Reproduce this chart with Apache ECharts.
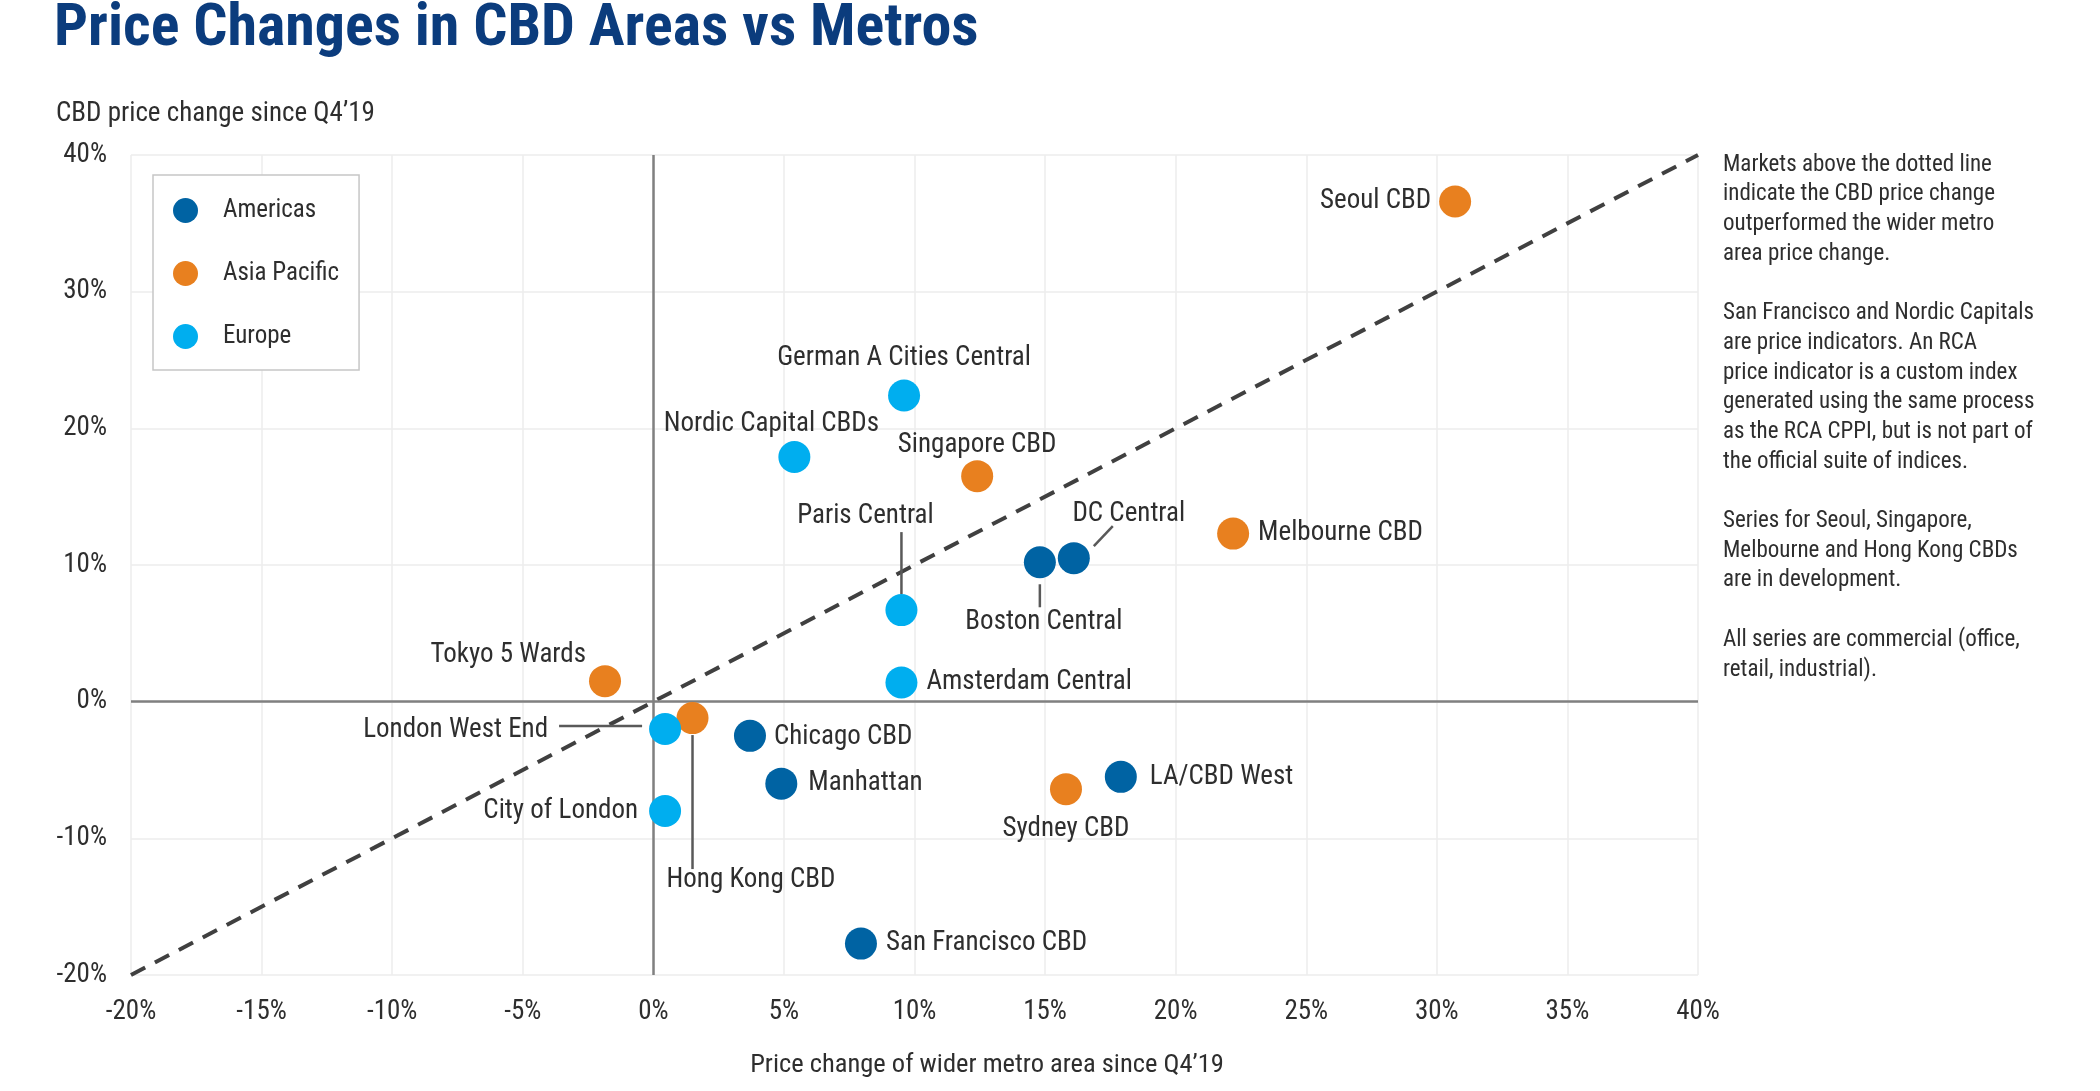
<!DOCTYPE html>
<html><head><meta charset="utf-8">
<script src="https://cdn.jsdelivr.net/npm/echarts@6/dist/echarts.min.js"></script>
<style>html,body{margin:0;padding:0;background:#fff}#c{width:2100px;height:1091px}</style>
</head><body><div id="c"></div>
<script>
const FONT = "'Liberation Sans Narrow','Arial Narrow','Roboto Condensed','Liberation Sans',sans-serif";

// ---- data ----
const regions = ['Americas', 'Asia Pacific', 'Europe'];
const regionColors = ['#0063a3', '#e8801f', '#00aeef'];

const americasNames = ['Boston Central', 'DC Central', 'Chicago CBD', 'Manhattan', 'LA/CBD West', 'San Francisco CBD'];
const americasX = [14.8, 16.1, 3.7, 4.9, 17.9, 7.95];
const americasY = [10.2, 10.5, -2.5, -6.0, -5.5, -17.7];

const asiaNames = ['Seoul CBD', 'Singapore CBD', 'Melbourne CBD', 'Tokyo 5 Wards', 'Hong Kong CBD', 'Sydney CBD'];
const asiaX = [30.7, 12.4, 22.2, -1.85, 1.5, 15.8];
const asiaY = [36.6, 16.5, 12.3, 1.5, -1.2, -6.4];

const europeNames = ['German A Cities Central', 'Nordic Capital CBDs', 'Paris Central', 'Amsterdam Central', 'London West End', 'City of London'];
const europeX = [9.6, 5.4, 9.5, 9.5, 0.45, 0.45];
const europeY = [22.4, 17.9, 6.7, 1.4, -2.0, -8.0];

const parityX = [-20, 40];
const parityY = [-20, 40];

const xTicks = { min: -20, max: 40, step: 5 };
const yTicks = { min: -20, max: 40, step: 10 };

const notes = [
  'Markets above the dotted line', 'indicate the CBD price change', 'outperformed the wider metro', 'area price change.', '',
  'San Francisco and Nordic Capitals', 'are price indicators. An RCA', 'price indicator is a custom index',
  'generated using the same process', 'as the RCA CPPI, but is not part of', 'the official suite of indices.', '',
  'Series for Seoul, Singapore,', 'Melbourne and Hong Kong CBDs', 'are in development.', '',
  'All series are commercial (office,', 'retail, industrial).'
];

// ---- label placement (pixel offsets from point centre) ----
const labelPlacement = {
  'Seoul CBD': [-24, 0, 'right'],
  'German A Cities Central': [0, -37, 'center'],
  'Nordic Capital CBDs': [-23, -33, 'center'],
  'Singapore CBD': [0, -31, 'center'],
  'Melbourne CBD': [25, 0, 'left'],
  'DC Central': [55, -44, 'center'],
  'Boston Central': [4, 60, 'center'],
  'Paris Central': [-36, -94, 'center'],
  'Amsterdam Central': [25, 0, 'left'],
  'Tokyo 5 Wards': [-19, -26, 'right'],
  'London West End': [-117, 1, 'right'],
  'Hong Kong CBD': [-26, 162, 'left'],
  'Chicago CBD': [24, 1, 'left'],
  'Manhattan': [27, 0, 'left'],
  'City of London': [-27, 0, 'right'],
  'LA/CBD West': [29, 0, 'left'],
  'Sydney CBD': [0, 40, 'center'],
  'San Francisco CBD': [25, 0, 'left']
};
const leaderLines = {
  'Paris Central': [0, -78, 0, -16],
  'Boston Central': [0, 22, 0, 45],
  'DC Central': [20, -12, 39, -32],
  'London West End': [-106, -3, -23, -3],
  'Hong Kong CBD': [0, 17, 0, 151]
};

function buildItems(names, xs, ys) {
  return names.map((n, i) => {
    const p = labelPlacement[n];
    return {
      name: n, value: [xs[i], ys[i]],
      label: { position: 'inside', offset: [p[0], p[1]], align: p[2], verticalAlign: 'middle' }
    };
  });
}
const groups = [[americasNames, americasX, americasY], [asiaNames, asiaX, asiaY], [europeNames, europeX, europeY]];

const leaderData = [];
groups.forEach(g => g[0].forEach((n, i) => {
  if (leaderLines[n]) leaderData.push([g[1][i], g[2][i]].concat(leaderLines[n]));
}));

const scatterSeries = regions.map((r, k) => ({
  name: r, type: 'scatter', symbolSize: 32, z: 5,
  itemStyle: { color: regionColors[k], opacity: 1 },
  label: { show: true, formatter: '{b}', color: '#2e2e2e', fontSize: 27, fontFamily: FONT },
  emphasis: { disabled: true },
  data: buildItems(groups[k][0], groups[k][1], groups[k][2])
}));

const chart = echarts.init(document.getElementById('c'), null, { renderer: 'canvas' });
chart.setOption({
  animation: false,
  backgroundColor: '#fff',
  textStyle: { fontFamily: FONT },
  grid: { left: 131, right: 402, top: 155, bottom: 116 },
  xAxis: {
    type: 'value', min: xTicks.min, max: xTicks.max, interval: xTicks.step,
    axisLine: { show: false }, axisTick: { show: false },
    axisLabel: { formatter: '{value}%', color: '#2e2e2e', fontSize: 27, fontFamily: FONT, margin: 24 },
    splitLine: { show: true, lineStyle: { color: '#ededed', width: 1.5 } }
  },
  yAxis: {
    type: 'value', min: yTicks.min, max: yTicks.max, interval: yTicks.step,
    axisLine: { show: false }, axisTick: { show: false },
    axisLabel: { formatter: '{value}%', color: '#2e2e2e', fontSize: 27, fontFamily: FONT, margin: 24, padding: [6, 0, 0, 0] },
    splitLine: { show: true, lineStyle: { color: '#ededed', width: 1.5 } }
  },
  legend: {
    data: regions, orient: 'vertical', left: 153, top: 175,
    padding: [23, 20, 21, 20], itemGap: 38, itemWidth: 25, itemHeight: 25,
    icon: 'circle', borderColor: '#c6c6c6', borderWidth: 1.5, backgroundColor: '#fff',
    textStyle: { fontSize: 25, color: '#2e2e2e', fontFamily: FONT, padding: [0, 0, 0, 20] },
    selectedMode: false
  },
  graphic: [
    { type: 'text', left: 54, top: 0, style: { text: 'Price Changes in CBD Areas vs Metros', fontSize: 60, fontWeight: 'bold', fill: '#0b3c7d', fontFamily: FONT } },
    { type: 'text', left: 56, top: 101, style: { text: 'CBD price change since Q4\u201919', fontSize: 27, fill: '#2e2e2e', fontFamily: FONT } },
    { type: 'text', x: 987, y: 1065, style: { text: 'Price change of wider metro area since Q4\u201919', fontSize: 26.5, fill: '#2e2e2e', fontFamily: FONT, align: 'center', verticalAlign: 'middle' } },
    { type: 'text', left: 1723, top: 150, style: { text: notes.join('\n'), fontSize: 23, lineHeight: 29.7, fill: '#2e2e2e', fontFamily: FONT } }
  ],
  series: [
    {
      type: 'line', name: 'parity', data: parityX.map((x, i) => [x, parityY[i]]),
      symbol: 'none', silent: true, z: 3,
      lineStyle: { color: '#404040', width: 4, type: [16, 11] },
      markLine: {
        symbol: 'none', silent: true, label: { show: false },
        lineStyle: { color: '#808080', width: 2.5, type: 'solid' },
        data: [{ xAxis: 0 }, { yAxis: 0 }]
      }
    },
    {
      type: 'custom', name: 'leaders', silent: true, z: 4,
      data: leaderData,
      renderItem: function (params, api) {
        const p = api.coord([api.value(0), api.value(1)]);
        return {
          type: 'line',
          shape: { x1: p[0] + api.value(2), y1: p[1] + api.value(3), x2: p[0] + api.value(4), y2: p[1] + api.value(5) },
          style: { stroke: '#595959', lineWidth: 2.5 }
        };
      }
    }
  ].concat(scatterSeries)
});
</script></body></html>
